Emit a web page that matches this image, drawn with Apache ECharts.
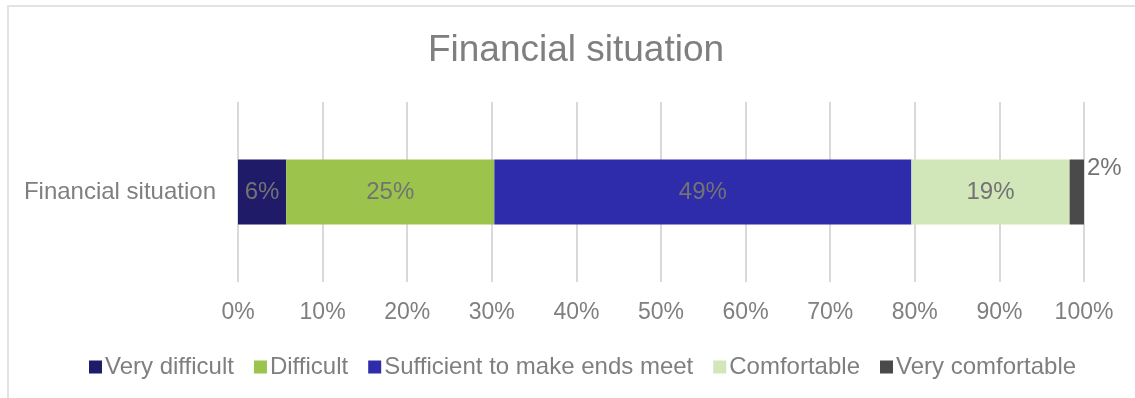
<!DOCTYPE html>
<html>
<head>
<meta charset="utf-8">
<script src="https://cdn.jsdelivr.net/npm/echarts@6/dist/echarts.min.js"></script>
<style>
  html, body { margin: 0; padding: 0; background: #fff; }
  #frame { position: absolute; left: 7px; top: 5px; width: 1140px; height: 400px;
           border-left: 2px solid #e3e3e3; border-top: 2px solid #e3e3e3; }
  #chart { position: absolute; left: 0; top: 0; width: 1135px; height: 398px; }
</style>
</head>
<body>
<div id="frame"></div>
<div id="chart"></div>
<script>
// Share of respondents by financial situation (percent of total)
const categories = ['Financial situation'];
const seriesNames = ['Very difficult', 'Difficult', 'Sufficient to make ends meet', 'Comfortable', 'Very comfortable'];
const veryDifficult = [5.7];
const difficult = [24.6];
const sufficient = [49.3];
const comfortable = [18.7];
const veryComfortable = [1.7];
const tickLabels = ['0%', '10%', '20%', '30%', '40%', '50%', '60%', '70%', '80%', '90%', '100%'];

const seriesValues = [veryDifficult, difficult, sufficient, comfortable, veryComfortable];
const colors = ['#1f1b68', '#9cc34b', '#2e2caa', '#d1e7b9', '#4a4a4a'];
const font = '"Liberation Sans", Arial, sans-serif';
const grey = '#7f7f7f';

const series = seriesNames.map((name, i) => {
  const last = i === seriesNames.length - 1;
  return {
    name: name,
    type: 'bar',
    stack: 'total',
    barWidth: 65,
    data: seriesValues[i],
    itemStyle: { color: colors[i] },
    label: {
      show: true,
      position: last ? ['100%', -3] : 'inside',
      align: last ? 'left' : 'center',
      verticalAlign: last ? 'top' : 'middle',
      offset: last ? [3, 0] : [0, 0],
      formatter: p => Math.round(p.value) + '%',
      fontFamily: font,
      fontSize: 24,
      color: '#737373'
    }
  };
});

const chart = echarts.init(document.getElementById('chart'), null, { renderer: 'canvas' });
chart.setOption({
  animation: false,
  title: {
    text: 'Financial situation',
    left: 571,
    textAlign: 'center',
    top: 27,
    textStyle: { fontFamily: font, fontSize: 37, fontWeight: 'normal', color: grey }
  },
  legend: {
    data: seriesNames,
    left: 84,
    top: 350,
    itemWidth: 13,
    itemHeight: 13,
    itemGap: 20,
    icon: 'rect',
    textStyle: { fontFamily: font, fontSize: 24, color: grey, padding: [0, 0, 0, -2] }
  },
  grid: { left: 238, right: 51, top: 102, bottom: 116 },
  xAxis: {
    type: 'value',
    min: 0,
    max: 100,
    interval: 10,
    axisLine: { show: false },
    axisTick: { show: false },
    splitLine: { show: true, lineStyle: { color: '#d9d9d9', width: 2 } },
    axisLabel: {
      fontFamily: font, fontSize: 23, color: grey, margin: 19,
      formatter: v => tickLabels[Math.round(v / 10)]
    }
  },
  yAxis: {
    type: 'category',
    data: categories,
    axisLine: { show: false },
    axisTick: { show: false },
    axisLabel: { fontFamily: font, fontSize: 24, color: grey, margin: 22 }
  },
  series: series
});
</script>
</body>
</html>
